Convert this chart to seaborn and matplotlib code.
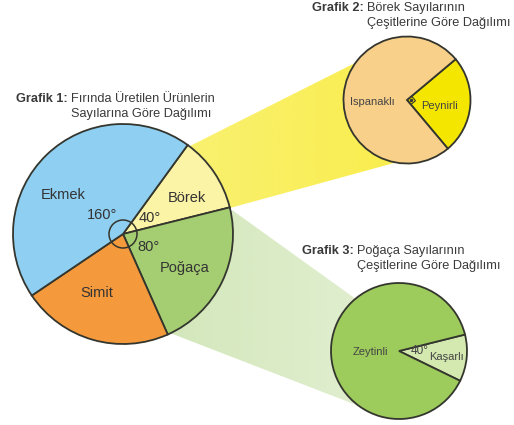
import numpy as np
import matplotlib
matplotlib.use("Agg")
import matplotlib.pyplot as plt
import matplotlib.colors as mcolors
from matplotlib.patches import Polygon, Circle
import seaborn as sns

# Grafik 1: ürün dağılımı (derece)
urunler = ["Börek", "Poğaça", "Simit", "Ekmek"]
urun_acilari = [40, 80, 80, 160]
urun_renkleri = ["#FBF3A6", "#A5CE72", "#F59A3C", "#8ECFF2"]

# Grafik 2: börek çeşitleri
borek_cesitleri = ["Peynirli", "Ispanaklı"]
borek_acilari = [90, 270]
borek_renkleri = ["#F5E600", "#F9D089"]

# Grafik 3: poğaça çeşitleri
pogaca_cesitleri = ["Kaşarlı", "Zeytinli"]
pogaca_acilari = [40, 320]
pogaca_renkleri = ["#D4E9B0", "#9DCB5C"]

W, H = 514, 425
sns.set_theme(style="white")
plt.rcParams["font.family"] = ["Liberation Sans", "DejaVu Sans"]

fig = plt.figure(figsize=(W / 100, H / 100), dpi=100)
ax = fig.add_axes([0, 0, 1, 1])


def py(y):
    # resim koordinatı -> eksen koordinatı (y yukarı)
    return H - y


kenar = "#34362e"

# ana pasta ve küçük pastalar
c1, r1 = (123, py(234)), 110
c2, r2 = (407, py(100)), 63.5
c3, r3 = (399, py(351)), 68

ax.pie(urun_acilari, colors=urun_renkleri, startangle=54, counterclock=False,
       center=c1, radius=r1, frame=True,
       wedgeprops=dict(edgecolor=kenar, linewidth=1.3, zorder=3))
ax.pie(borek_acilari, colors=borek_renkleri, startangle=40, counterclock=False,
       center=c2, radius=r2, frame=True,
       wedgeprops=dict(edgecolor=kenar, linewidth=1.3, zorder=3))
ax.pie(pogaca_acilari, colors=pogaca_renkleri, startangle=14, counterclock=False,
       center=c3, radius=r3, frame=True,
       wedgeprops=dict(edgecolor=kenar, linewidth=1.3, zorder=3))


# bağlantı şeritleri (renk geçişli)
def serit(noktalar, renk, a0, a1, x0, x1):
    poly = Polygon([(x, py(y)) for x, y in noktalar], closed=True,
                   facecolor="none", edgecolor="none")
    ax.add_patch(poly)
    img = np.zeros((2, 256, 4))
    img[..., :3] = mcolors.to_rgb(renk)
    img[..., 3] = np.linspace(a0, a1, 256)
    im = ax.imshow(img, extent=(x0, x1, 0, H), aspect="auto", zorder=1,
                   interpolation="bilinear")
    im.set_clip_path(poly)


serit([(188, 147), (365, 58), (405, 160), (230, 208)], "#F7E818", 0.62, 0.78, 185, 410)
serit([(232, 210), (360, 302), (390, 418), (170, 333)], "#A5CE72", 0.48, 0.32, 170, 395)

# merkez açı çemberi
ax.add_patch(Circle(c1, 14, fill=False, edgecolor=kenar, linewidth=1.1, zorder=4))

# dik açı işareti (Grafik 2)
u1 = np.array([np.cos(np.radians(40)), np.sin(np.radians(40))])
u2 = np.array([np.cos(np.radians(-50)), np.sin(np.radians(-50))])
v = np.array(c2)
s = 6
kare = [v, v + s * u1, v + s * (u1 + u2), v + s * u2]
ax.add_patch(Polygon(kare, closed=True, fill=False, edgecolor=kenar, linewidth=0.8, zorder=4))
nokta = v + s * 0.5 * (u1 + u2)
ax.plot([nokta[0]], [nokta[1]], marker="o", markersize=1.5, color=kenar, zorder=5)

# dilim etiketleri
yazi = "#333333"
etiketler = [
    ("Ekmek", 63, 195), ("160°", 102, 215), ("Börek", 187, 198), ("40°", 150, 218),
    ("80°", 148, 247), ("Poğaça", 185, 268), ("Simit", 97, 293),
]
for t, x, y in etiketler:
    ax.text(x, py(y), t, ha="center", va="center", fontsize=10.5, color=yazi, zorder=6)

kucuk = [
    ("Ispanaklı", 372, 102, 8), ("Peynirli", 440, 106, 8),
    ("Zeytinli", 370, 352, 8), ("40°", 420, 351, 8.5), ("Kaşarlı", 447, 357, 8),
]
for t, x, y, fs in kucuk:
    ax.text(x, py(y), t, ha="center", va="center", fontsize=fs, color="#444444", zorder=6)

ax.set_xlim(0, W)
ax.set_ylim(0, H)
ax.set_aspect("equal")
ax.axis("off")

# başlıklar
fig.canvas.draw()
renderer = fig.canvas.get_renderer()
basliklar = [
    ("Grafik 1:", "Fırında Üretilen Ürünlerin", "Sayılarına Göre Dağılımı", 16, 102),
    ("Grafik 2:", "Börek Sayılarının", "Çeşitlerine Göre Dağılımı", 312, 11),
    ("Grafik 3:", "Poğaça Sayılarının", "Çeşitlerine Göre Dağılımı", 302, 254),
]
for kalin, satir1, satir2, x, y in basliklar:
    tb = ax.text(x, py(y), kalin, fontsize=9.2, fontweight="bold", color="#3a3a3a",
                 ha="left", va="baseline", zorder=6)
    bb = tb.get_window_extent(renderer)
    x2 = bb.x1 + 3
    ax.text(x2, py(y), satir1, fontsize=9.2, color="#3a3a3a", ha="left", va="baseline", zorder=6)
    ax.text(x2, py(y + 15), satir2, fontsize=9.2, color="#3a3a3a", ha="left", va="baseline", zorder=6)

fig.savefig("out.png", dpi=100)
